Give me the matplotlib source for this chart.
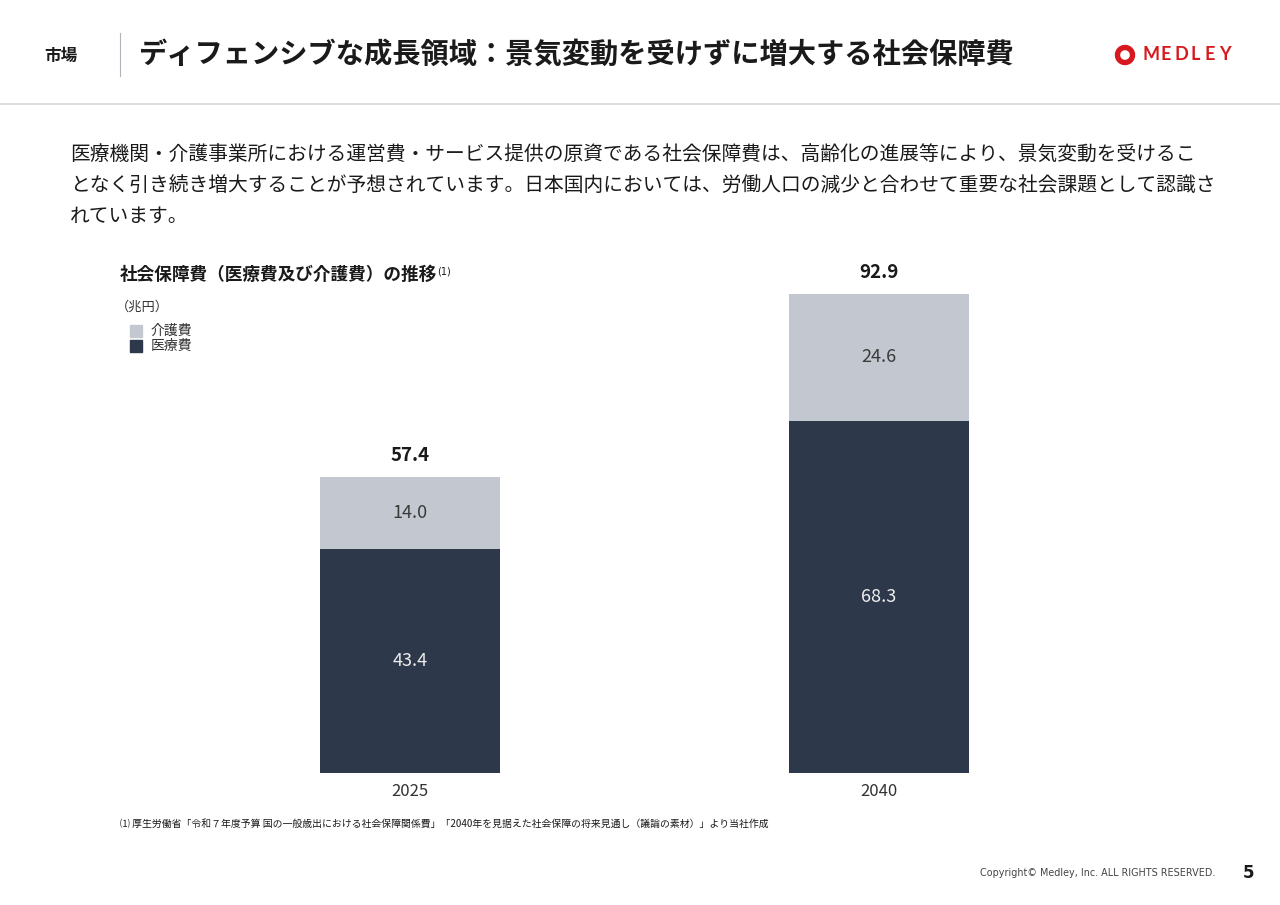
import matplotlib
matplotlib.use("Agg")
import matplotlib.pyplot as plt
from matplotlib.patches import Rectangle, Wedge
from matplotlib.lines import Line2D

plt.rcParams['font.family'] = ['Noto Sans CJK JP', 'DejaVu Sans']

# ---- data ----
years = ["2025", "2040"]
medical = [43.4, 68.3]     # 医療費
care = [14.0, 24.6]        # 介護費
totals = [57.4, 92.9]
medical_label = "医療費"
care_label = "介護費"

DARK = "#2d394b"
LIGHT = "#c2c7d0"
TXT = "#1a1a1a"

W, H = 1280, 905
fig = plt.figure(figsize=(12.8, 9.05), dpi=100)
fig.patch.set_facecolor("white")

def fx(x): return x / W
def fy(y): return 1 - y / H

# ---- header ----
fig.text(fx(44), fy(56), "市場", fontsize=12, fontweight="bold", color=TXT, va="center", ha="left")
fig.add_artist(Line2D([fx(120), fx(120)], [fy(33), fy(76)], color="#b0b4bb", lw=0.8))
fig.text(fx(139), fy(55), "ディフェンシブな成長領域：景気変動を受けずに増大する社会保障費",
         fontsize=20.35, fontweight="bold", color=TXT, va="center", ha="left")
fig.add_artist(Line2D([0, 1], [fy(104), fy(104)], color="#d5d8dc", lw=1.2))

# logo
red = "#d7191f"
ring = Wedge((1125 / 100, (H - 55) / 100), 0.095, 0, 360, width=0.04, color=red,
             transform=fig.dpi_scale_trans)
fig.add_artist(ring)
logo_letters = "MEDLEY"
logo_x = [1142, 1161, 1175, 1191, 1205, 1219]
for ch, lx in zip(logo_letters, logo_x):
    fig.text(fx(lx), fy(55), ch, fontsize=13, color=red, va="center", ha="left",
             family="Lato", fontweight="bold")

# ---- body text ----
body = ["医療機関・介護事業所における運営費・サービス提供の原資である社会保障費は、高齢化の進展等により、景気変動を受けるこ",
        "となく引き続き増大することが予想されています。日本国内においては、労働人口の減少と合わせて重要な社会課題として認識さ",
        "れています。"]
for i, line in enumerate(body):
    fig.text(fx(70), fy(155 + i * 30.5), line, fontsize=14.2, color=TXT, va="center", ha="left")

# ---- chart title / unit / legend ----
fig.text(fx(120), fy(275), "社会保障費（医療費及び介護費）の推移", fontsize=12.7, fontweight="bold",
         color=TXT, va="center", ha="left")
fig.text(fx(437), fy(272), "(1)", fontsize=7, color=TXT, va="center", ha="left", family="DejaVu Sans")
fig.text(fx(116), fy(307), "（兆円）", fontsize=9.5, color="#333333", va="center", ha="left")

fig.add_artist(Rectangle((fx(130), fy(337)), 12 / W, 12 / H, color=LIGHT, transform=fig.transFigure))
fig.add_artist(Rectangle((fx(130), fy(352)), 12 / W, 12 / H, color=DARK, transform=fig.transFigure))
fig.text(fx(151), fy(331), care_label, fontsize=10, color="#333333", va="center", ha="left")
fig.text(fx(151), fy(346), medical_label, fontsize=10, color="#333333", va="center", ha="left")

# ---- chart ----
ax_left, ax_right = 175.5, 1113.5
ax_bottom = 773
scale = 479 / 92.9
ymax = 100
ax_top = ax_bottom - ymax * scale
ax = fig.add_axes([fx(ax_left), fy(ax_bottom), (ax_right - ax_left) / W, (ax_bottom - ax_top) / H])
ax.set_xlim(-0.5, 1.5)
ax.set_ylim(0, ymax)
xs = list(range(len(years)))
bw = 180 / 469
ax.bar(xs, medical, width=bw, color=DARK, label=medical_label)
ax.bar(xs, care, width=bw, bottom=medical, color=LIGHT, label=care_label)

for x, m, c, t in zip(xs, medical, care, totals):
    ax.text(x, m / 2, f"{m:.1f}", ha="center", va="center", fontsize=13, color="#eeeeee")
    ax.text(x, m + c / 2, f"{c:.1f}", ha="center", va="center", fontsize=13, color="#3a3a3a")
    ax.annotate(f"{t:.1f}", (x, m + c), xytext=(0, 15.5), textcoords="offset points",
                ha="center", va="center", fontsize=13.5, fontweight="bold", color=TXT)

ax.set_xticks(xs)
ax.set_xticklabels(years, fontsize=12, color="#333333")
ax.tick_params(axis="x", length=0, pad=7)
ax.set_yticks([])
for s in ax.spines.values():
    s.set_visible(False)
ax.patch.set_alpha(0)

# ---- footnote & footer ----
fig.text(fx(120), fy(824),
         "⑴ 厚生労働省「令和７年度予算 国の一般歳出における社会保障関係費」「2040年を見据えた社会保障の将来見通し（議論の素材）」より当社作成",
         fontsize=7.1, color=TXT, va="center", ha="left")
fig.text(fx(1215), fy(873), "Copyright© Medley, Inc. ALL RIGHTS RESERVED.", fontsize=6.9,
         color="#444444", va="center", ha="right", family="DejaVu Sans")
fig.text(fx(1248), fy(873), "5", fontsize=12, fontweight="bold", color=TXT, va="center", ha="center",
         family="DejaVu Sans")

fig.savefig("out.png", dpi=100, facecolor="white")
